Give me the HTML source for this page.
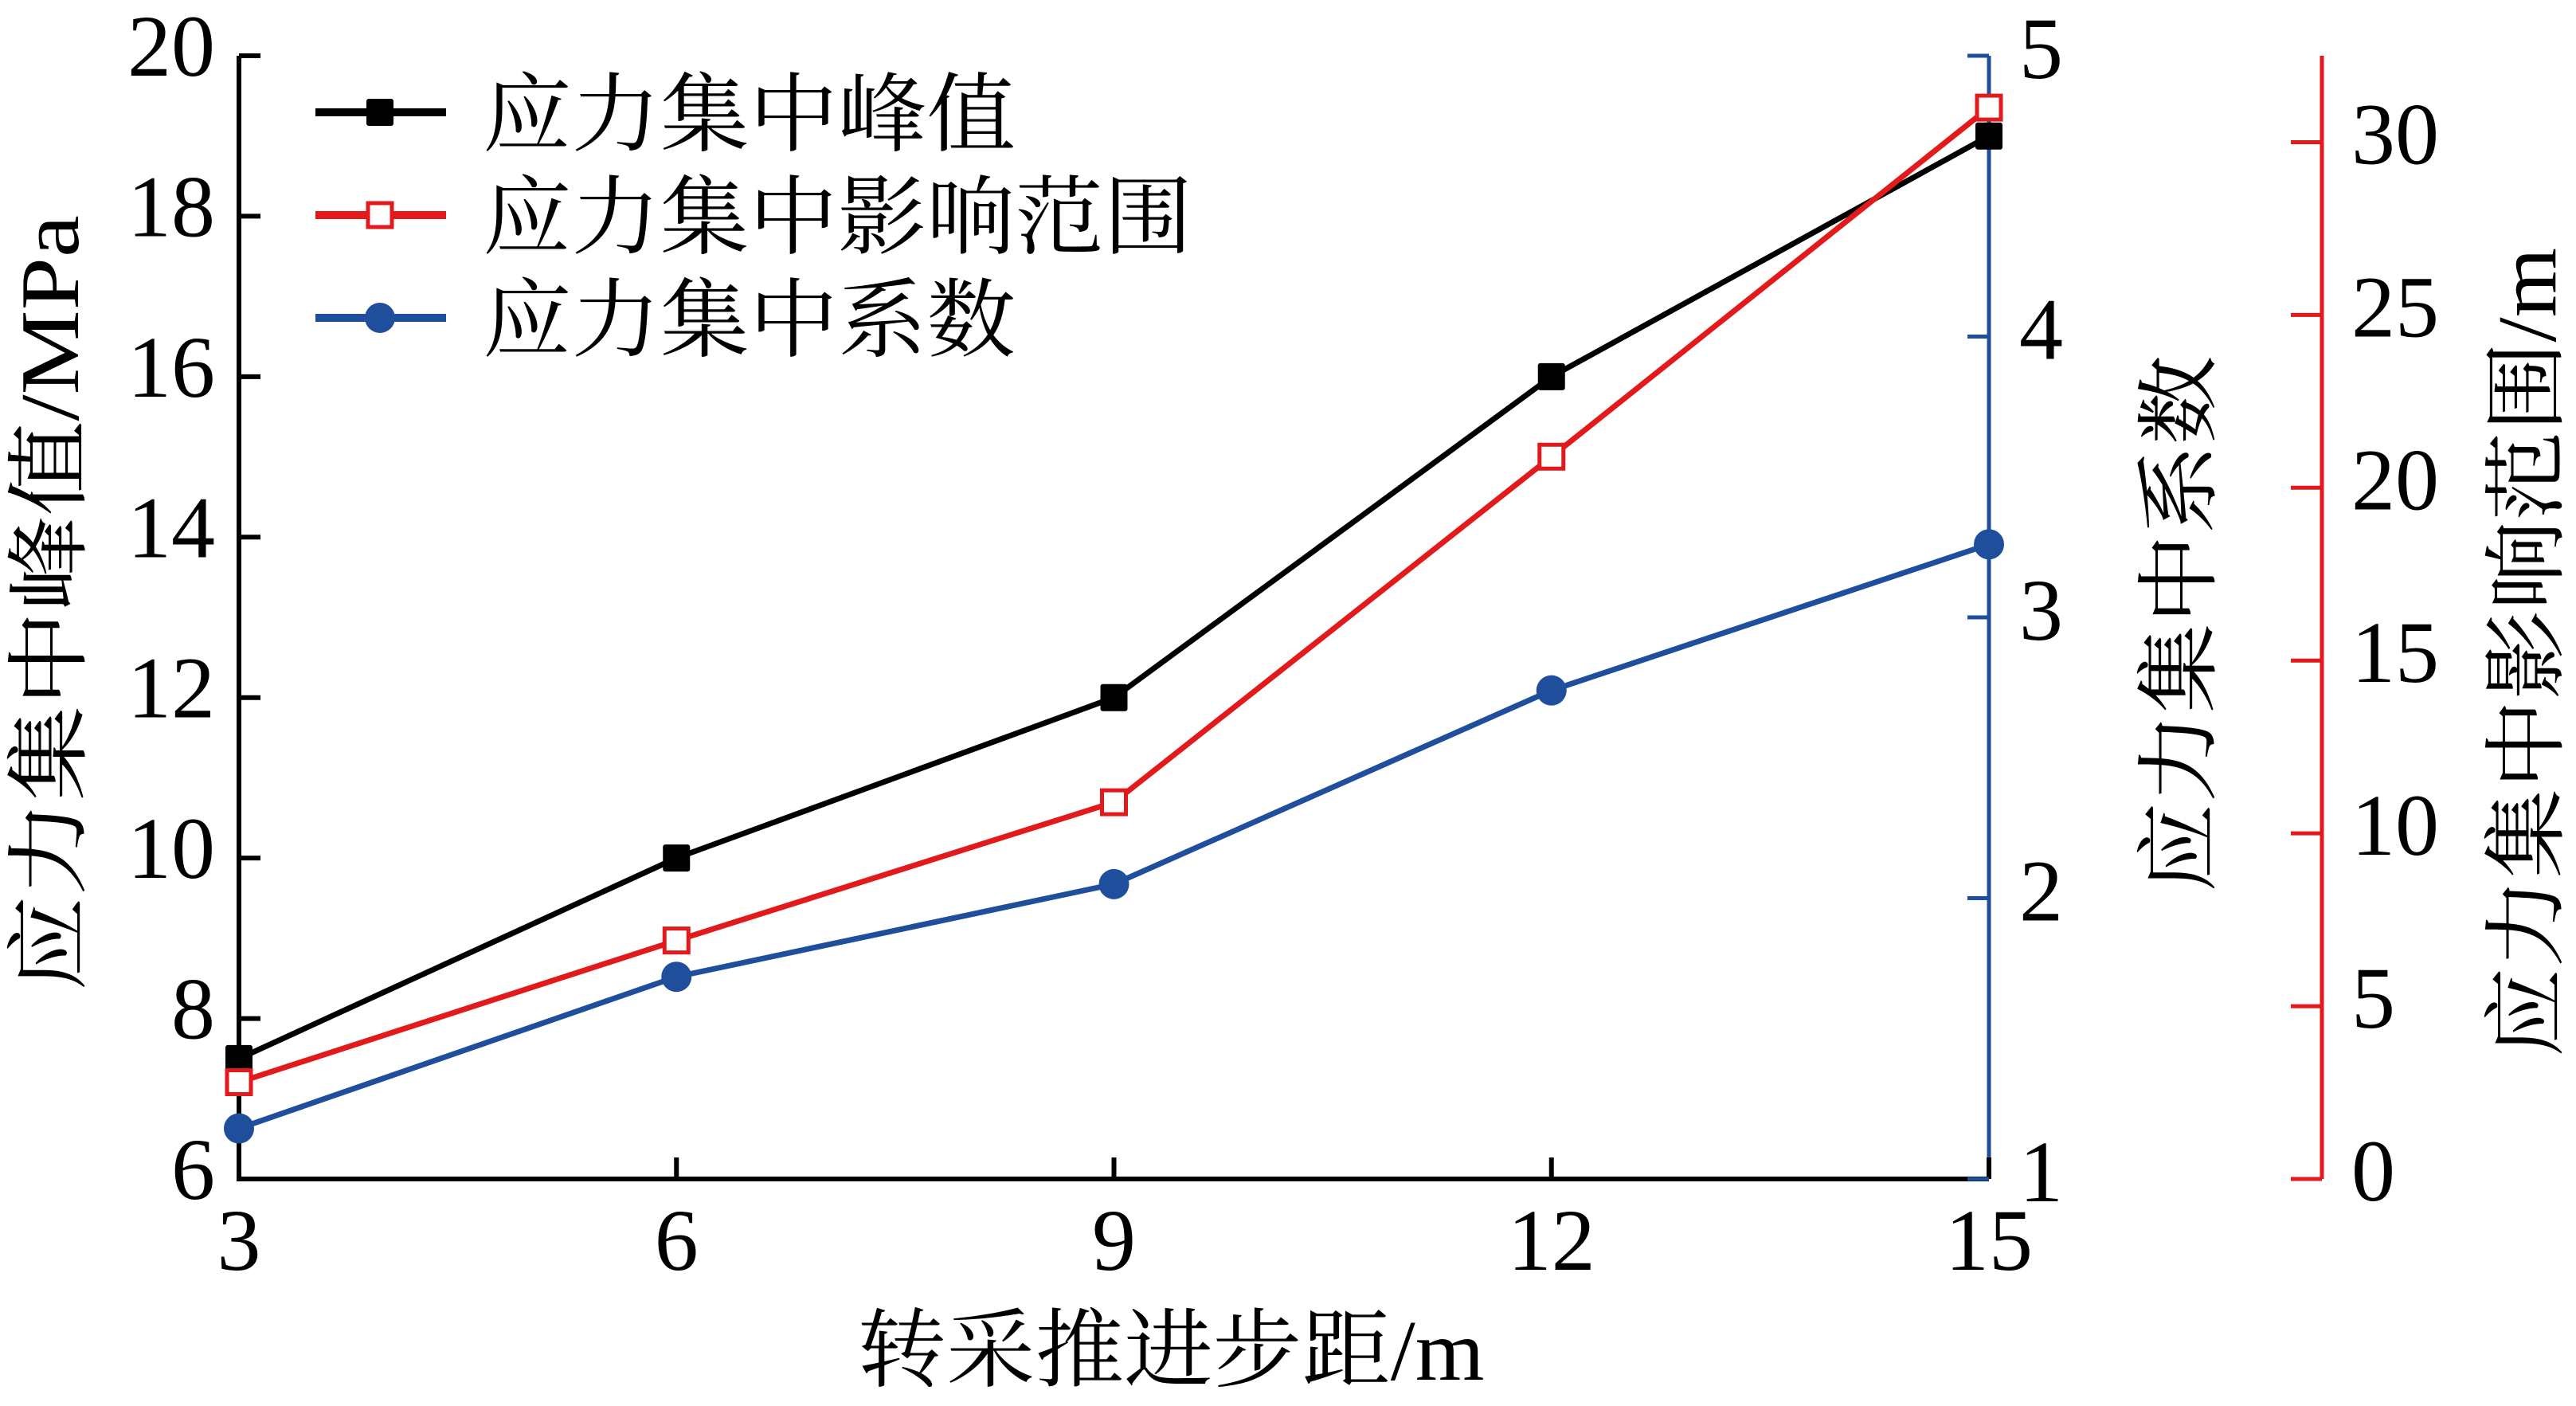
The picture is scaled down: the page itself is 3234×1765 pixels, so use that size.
<!DOCTYPE html>
<html><head><meta charset="utf-8"><style>
html,body{margin:0;padding:0;background:#fff}
svg{display:block}
text{font-family:"Liberation Serif","Noto Serif CJK SC",serif;fill:#000}
</style></head><body>
<svg id="chart" width="3234" height="1765" viewBox="0 0 3234 1765" xmlns="http://www.w3.org/2000/svg">
<g id="axes"></g>
<g id="series"></g>
<g id="legend"></g>
</svg>
<script>
const categories = [3, 6, 9, 12, 15];
const peakValues = [7.5, 10, 12, 16, 19];
const rangeValues = [2.8, 6.9, 10.9, 20.9, 31.0];
const coefValues = [1.18, 1.72, 2.05, 2.74, 3.26];
const xTicks = [3, 6, 9, 12, 15];
const leftTicks = [6, 8, 10, 12, 14, 16, 18, 20];
const blueTicks = [1, 2, 3, 4, 5];
const redTicks = [0, 5, 10, 15, 20, 25, 30];

const NS = 'http://www.w3.org/2000/svg';
const L = 300, R = 2497, T = 70, B = 1480, RED_X = 2915;
const BLUE = '#1f4e9c', RED = '#e31a1c';
const xs = v => L + (v - 3) / 12 * (R - L);
const yL = v => B - (v - 6) / 14 * (B - T);
const yB = v => B - (v - 1) / 4 * (B - T);
const yR = v => B - v / 32.5 * (B - T);

function mk(tag, attrs, parent) {
  const e = document.createElementNS(NS, tag);
  for (const k in attrs) e.setAttribute(k, attrs[k]);
  parent.appendChild(e);
  return e;
}
const axes = document.getElementById('axes');
const series = document.getElementById('series');
const legend = document.getElementById('legend');

// spines
let s;
s = mk('path', {d: `M${L} ${T}V${B}H${R}`, stroke: '#000', 'stroke-width': 6, fill: 'none'}, axes);


s = mk('line', {x1: R, y1: T, x2: R, y2: B, stroke: BLUE, 'stroke-width': 5}, axes);


s = mk('line', {x1: RED_X, y1: T, x2: RED_X, y2: B, stroke: RED, 'stroke-width': 5}, axes);



xTicks.forEach(v => {
  const x = xs(v);
  const t = mk('line', {x1: x, y1: B, x2: x, y2: B - 27, stroke: '#000', 'stroke-width': 6}, axes);
  
  
  const tx = mk('text', {x: x, y: 1594, 'font-size': 110, 'text-anchor': 'middle'}, axes);
  tx.textContent = v;
  
  
});
leftTicks.forEach(v => {
  const y = yL(v);
  const t = mk('line', {x1: L, y1: y, x2: L + 27, y2: y, stroke: '#000', 'stroke-width': 6}, axes);
  
  
  const tx = mk('text', {x: 270, y: y + 25, 'font-size': 110, 'text-anchor': 'end'}, axes);
  tx.textContent = v;
  
  
});
blueTicks.forEach(v => {
  const y = yB(v);
  const t = mk('line', {x1: R, y1: y, x2: R - 27, y2: y, stroke: BLUE, 'stroke-width': 5}, axes);
  
  
  const tx = mk('text', {x: 2535, y: y + 28, 'font-size': 110}, axes);
  tx.textContent = v;
  
  
});
redTicks.forEach(v => {
  const y = yR(v);
  const t = mk('line', {x1: RED_X, y1: y, x2: RED_X - 39, y2: y, stroke: RED, 'stroke-width': 5}, axes);
  
  
  const tx = mk('text', {x: 2952, y: y + 27, 'font-size': 110}, axes);
  tx.textContent = v;
  
  
});

// axis titles
let at;
at = mk('text', {x: 1470, y: 1732, 'font-size': 108, 'text-anchor': 'middle', textLength: 787, lengthAdjust: 'spacingAndGlyphs'}, axes);
at.textContent = '转采推进步距/m';


at = mk('text', {x: 0, y: 0, 'font-size': 105, 'text-anchor': 'middle', textLength: 974, lengthAdjust: 'spacingAndGlyphs', transform: 'translate(98 757) rotate(-90)'}, axes);
at.textContent = '应力集中峰值/MPa';


at = mk('text', {x: 0, y: 0, 'font-size': 105, 'text-anchor': 'middle', textLength: 674, lengthAdjust: 'spacingAndGlyphs', transform: 'translate(2772 783) rotate(-90)'}, axes);
at.textContent = '应力集中系数';


at = mk('text', {x: 0, y: 0, 'font-size': 105, 'text-anchor': 'middle', textLength: 1016, lengthAdjust: 'spacingAndGlyphs', transform: 'translate(3208 819) rotate(-90)'}, axes);
at.textContent = '应力集中影响范围/m';



// series
function drawLine(vals, yf, color, name) {
  const pts = vals.map((v, i) => xs(categories[i]) + ',' + yf(v)).join(' ');
  const pl = mk('polyline', {points: pts, fill: 'none', stroke: color, 'stroke-width': 7, 'stroke-linejoin': 'miter'}, series);
  
  
}
drawLine(peakValues, yL, '#000', 'peak');
drawLine(rangeValues, yR, RED, 'range');
drawLine(coefValues, yB, BLUE, 'coefficient');
peakValues.forEach((v, i) => {
  const m = mk('rect', {x: xs(categories[i]) - 17, y: yL(v) - 17, width: 34, height: 34, fill: '#000', rx: 3}, series);
  
  
});
rangeValues.forEach((v, i) => {
  const m = mk('rect', {x: xs(categories[i]) - 15, y: yR(v) - 15, width: 30, height: 30, fill: '#fff', stroke: RED, 'stroke-width': 5}, series);
  
  
});
coefValues.forEach((v, i) => {
  const m = mk('circle', {cx: xs(categories[i]), cy: yB(v), r: 19, fill: BLUE}, series);
  
  
});

// legend
const legendItems = [
  {label: '应力集中峰值', color: '#000', y: 141, kind: 'fill', w: 669},
  {label: '应力集中影响范围', color: RED, y: 270, kind: 'open', w: 891},
  {label: '应力集中系数', color: BLUE, y: 399, kind: 'circle', w: 669}
];
legendItems.forEach(it => {
  const g = mk('g', {}, legend);
  
  
  mk('line', {x1: 396, y1: it.y, x2: 560, y2: it.y, stroke: it.color, 'stroke-width': 10}, g);
  if (it.kind === 'fill') mk('rect', {x: 460, y: it.y - 17, width: 34, height: 34, fill: '#000', rx: 3}, g);
  else if (it.kind === 'open') mk('rect', {x: 462, y: it.y - 15, width: 30, height: 30, fill: '#fff', stroke: RED, 'stroke-width': 5}, g);
  else mk('circle', {cx: 477, cy: it.y, r: 19, fill: BLUE}, g);
  const t = mk('text', {x: 606, y: it.y + 40, 'font-size': 108, textLength: it.w, lengthAdjust: 'spacingAndGlyphs'}, g);
  t.textContent = it.label;
});
</script>
</body></html>
